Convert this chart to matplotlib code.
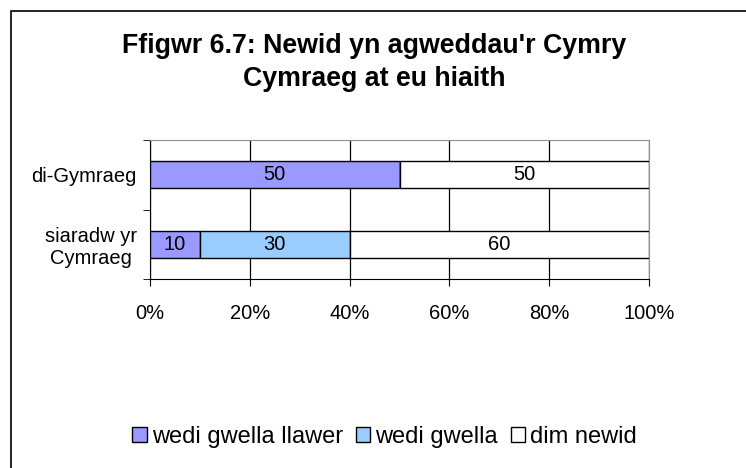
import matplotlib.pyplot as plt
import matplotlib.patches as patches
import numpy as np

categories = ["siaradw yr\nCymraeg", "di-Gymraeg"]
series_names = ["wedi gwella llawer", "wedi gwella", "dim newid"]
values = {
    "wedi gwella llawer": [10, 50],
    "wedi gwella": [30, 0],
    "dim newid": [60, 50],
}
colors = ["#9999FF", "#99CCFF", "#FFFFFF"]
x_ticks = [0, 20, 40, 60, 80, 100]
x_labels = ["0%", "20%", "40%", "60%", "80%", "100%"]

W, H = 746, 468
fig = plt.figure(figsize=(W / 100, H / 100), dpi=100)
plt.rcParams["font.family"] = ["Liberation Sans", "DejaVu Sans"]

# outer chart frame
fig.add_artist(patches.Rectangle((11 / W, -0.1), 2, (H - 11) / H + 0.1,
                                 transform=fig.transFigure, fill=False,
                                 ec="black", lw=1.2))

ax = fig.add_axes([150 / W, 1 - 279 / H, (649 - 150) / W, (279 - 140) / H])

fs = 14.5
y = np.arange(len(categories))
left = np.zeros(len(categories))
for name, col in zip(series_names, colors):
    vals = np.array(values[name], dtype=float)
    ax.barh(y, vals, left=left, height=0.39, color=col, edgecolor="black",
            lw=1.0, label=name, zorder=3)
    for yi, (l, v) in enumerate(zip(left, vals)):
        if v > 0:
            ax.text(l + v / 2, yi, f"{int(v)}", ha="center", va="center",
                    fontsize=fs, zorder=4)
    left += vals

ax.set_xlim(0, 100)
ax.set_ylim(-0.5, 1.5)
ax.set_xticks(x_ticks)
ax.set_xticklabels(x_labels, fontsize=fs)
ax.set_yticks(y)
ax.set_yticklabels(categories, fontsize=fs)
ax.set_yticks([-0.5, 0.5, 1.5], minor=True)
ax.tick_params(axis="y", which="major", length=0, pad=9.5)
ax.tick_params(axis="y", which="minor", length=5, direction="out", color="black")
ax.tick_params(axis="x", length=5, direction="out", pad=13)
for t in ax.get_yticklabels():
    t.set_multialignment("center")
ax.xaxis.grid(True, color="black", lw=0.9, zorder=0)
ax.spines["left"].set_color("black")
ax.spines["bottom"].set_color("black")
ax.spines["top"].set_color("#909090")
ax.spines["right"].set_color("#909090")

fig.text(374 / W, 1 - 53 / H, "Ffigwr 6.7: Newid yn agweddau'r Cymry",
         ha="center", va="baseline", fontsize=19.3, fontweight="bold")
fig.text(374 / W, 1 - 86 / H, "Cymraeg at eu hiaith",
         ha="center", va="baseline", fontsize=19.3, fontweight="bold")

leg = fig.legend(loc="center right", bbox_to_anchor=(637 / W, 1 - 437 / H),
                 ncol=3, frameon=False, fontsize=17, handlelength=0.6,
                 handleheight=0.6, handletextpad=0.22, columnspacing=0.55,
                 borderpad=0, borderaxespad=0)
for h in leg.legend_handles:
    h.set_edgecolor("black")
    h.set_linewidth(1.0)

fig.savefig("out.png", dpi=100, facecolor="white")
